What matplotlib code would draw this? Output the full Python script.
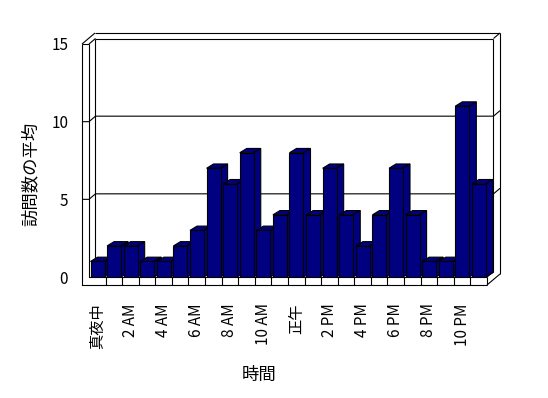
import matplotlib
matplotlib.use("Agg")
import matplotlib.pyplot as plt
from matplotlib.patches import Polygon

plt.rcParams['font.family'] = ['Noto Sans CJK JP', 'DejaVu Sans']

# data
values = [1, 2, 2, 1, 1, 2, 3, 7, 6, 8, 3, 4, 8, 4, 7, 4, 2, 4, 7, 4, 1, 1, 11, 6]
tick_pos = list(range(0, 24, 2))
tick_labels = ['真夜中', '2 AM', '4 AM', '6 AM', '8 AM', '10 AM',
               '正午', '2 PM', '4 PM', '6 PM', '8 PM', '10 PM']
y_ticks = [0, 5, 10, 15]

W, H = 548, 398
fig = plt.figure(figsize=(W / 100, H / 100), dpi=100)
fig.patch.set_facecolor('white')

# front plane of the floor: x 89..487 px, value 0 at 277 px, 15 at 44 px
ax = fig.add_axes([89 / W, (H - 277) / H, 398 / W, 233 / H])
ax.set_xlim(-0.5, 23.5)
ax.set_ylim(0, 15)
CAT = 398 / 24.0   # px per category
VAL = 233 / 15.0   # px per value unit

def px(dx, dy):
    return dx / CAT, dy / VAL

ddx, ddy = px(6.5, 5.5)     # wall depth
bdx, bdy = px(7.0, 4.3)     # bar depth
xl = -0.5 - 7 / CAT          # left wall outer edge
yb = -8 / VAL                # floor bottom
x0, x1, top = -0.5, 23.5, 15

lw = 0.8
def line(xs, ys):
    ax.plot(xs, ys, color='black', lw=lw, clip_on=False, zorder=1,
            solid_capstyle='butt')

# left wall + floor front face
line([xl, xl, x1], [top, yb, yb])
line([x0, x0, x1], [top, 0, 0])
line([xl, x0], [top, top])
for c in range(24 - 1):
    line([c + 0.5, c + 0.5], [yb, 0])
# floor right side
line([x1, x1], [yb, 0])
line([x1, x1 + 2 * ddx], [yb, yb + 2 * ddy])
line([x1, x1 + ddx], [0, ddy])
# back wall
line([x0 + ddx, x0 + ddx], [ddy, top + ddy])
line([x0 + ddx, x1 + ddx], [ddy, ddy])
line([x1 + ddx, x1 + ddx], [ddy, top + ddy])
line([x1 + 2 * ddx, x1 + 2 * ddx], [yb + 2 * ddy, top + 2 * ddy])
line([x0, x0 + ddx], [top, top + ddy])
line([x0 + ddx, x1 + ddx], [top + ddy, top + ddy])
line([xl, xl + 2 * ddx], [top, top + 2 * ddy])
line([xl + 2 * ddx, x1 + 2 * ddx], [top + 2 * ddy, top + 2 * ddy])
line([x1 + ddx, x1 + 2 * ddx], [top + ddy, top + 2 * ddy])
# gridlines
for v in [5, 10]:
    line([xl, x0, x0 + ddx, x1 + ddx, x1 + 2 * ddx],
         [v, v, v + ddy, v + ddy, v + 2 * ddy])

# bars
navy = '#000080'
off = 1.5 / CAT
bw = 14 / CAT
lefts = [i - 0.5 + off for i in range(len(values))]
bars = ax.bar(lefts, values, width=bw, align='edge', color=navy,
              edgecolor='black', linewidth=lw)
for i, (b, l, v) in enumerate(zip(bars, lefts, values)):
    b.set_zorder(3 + i)
    r = l + bw
    topf = Polygon([(l, v), (r, v), (r + bdx, v + bdy), (l + bdx, v + bdy)],
                   closed=True, facecolor=navy, edgecolor='black', lw=lw,
                   zorder=2.5 + i, clip_on=False)
    side = Polygon([(r, 0), (r, v), (r + bdx, v + bdy), (r + bdx, bdy)],
                   closed=True, facecolor=navy, edgecolor='black', lw=lw,
                   zorder=2.5 + i, clip_on=False)
    ax.add_patch(topf)
    ax.add_patch(side)

for s in ax.spines.values():
    s.set_visible(False)
ax.patch.set_visible(False)
ax.set_yticks(y_ticks)
ax.set_yticklabels([str(t) for t in y_ticks], fontsize=11)
ax.set_xticks(tick_pos)
ax.set_xticklabels(tick_labels, rotation=90, fontsize=11)
ax.tick_params(axis='y', length=0, pad=15)
ax.tick_params(axis='x', length=0, pad=19)

fig.text(31 / W, 1 - 174 / H, '訪問数の平均', rotation=90, ha='center',
         va='center', fontsize=12.5)
fig.text(259 / W, 1 - 375 / H, '時間', ha='center', va='center', fontsize=12.5)

fig.savefig('out.png', dpi=100)
